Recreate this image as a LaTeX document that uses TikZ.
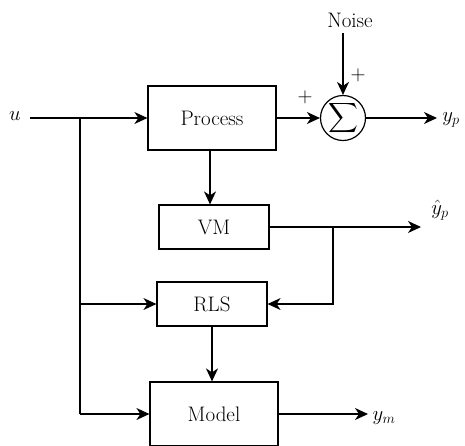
\documentclass[tikz,border=0pt]{standalone}
\usepackage{amsmath}
\usetikzlibrary{arrows.meta}
\begin{document}
\begin{tikzpicture}[x=1pt,y=-1pt,
  font=\fontsize{21}{25}\selectfont,
  line width=1.2pt,
  blk/.style={draw,line width=1.2pt,rectangle,inner sep=0pt,anchor=center},
  sig/.style={-{Stealth[length=13pt,width=12pt,inset=4pt]},line width=1.2pt},
  lbl/.style={inner sep=0pt}]
\useasboundingbox (0,0) rectangle (465,445);
\node[blk,minimum width=128pt,minimum height=64pt] (proc) at (212,118) {Process};
\node[blk,minimum width=110pt,minimum height=44pt] (vm) at (214,227) {VM};
\node[blk,minimum width=110pt,minimum height=44pt] (rls) at (212,304) {RLS};
\node[blk,minimum width=128pt,minimum height=64pt] (model) at (214,414) {Model};
\node[draw,circle,line width=1.2pt,minimum size=45pt,inner sep=0pt] (sum) at (343,118) {$\displaystyle\sum$};
\node[lbl] (u) at (15,116) {$u$};
\node[lbl] (noise) at (350,20) {Noise};
\node[lbl] (yp) at (451,120) {$y_p$};
\node[lbl] (yhat) at (440,210) {$\hat{y}_p$};
\node[lbl] (ym) at (384,418) {$y_m$};
\node[lbl] (p1) at (305,97) {$+$};
\node[lbl] (p2) at (358,75) {$+$};
\coordinate (ustart) at (30,118);
\coordinate (j1) at (80,118);
\coordinate (ntop) at (343,33);
\coordinate (ypend) at (437,118);
\coordinate (yhatend) at (421,227);
\coordinate (j2) at (333,227);
\coordinate (ymend) at (368,414);
\draw[sig] (ustart) -- (proc.west);
\draw (j1) -- (j1 |- model.west);
\draw[sig] (j1 |- rls.west) -- (rls.west);
\draw[sig] (j1 |- model.west) -- (model.west);
\draw[sig] (proc.east) -- (sum.west);
\draw[sig] (ntop) -- (sum.north);
\draw[sig] (sum.east) -- (ypend);
\draw[sig] (proc.south -| 210,0) -- (vm.north -| 210,0);
\draw[sig] (vm.east) -- (yhatend);
\draw[sig] (j2) |- (rls.east);
\draw[sig] (rls.south) -- (rls.south |- model.north);
\draw[sig] (model.east) -- (ymend);
\end{tikzpicture}
\end{document}
